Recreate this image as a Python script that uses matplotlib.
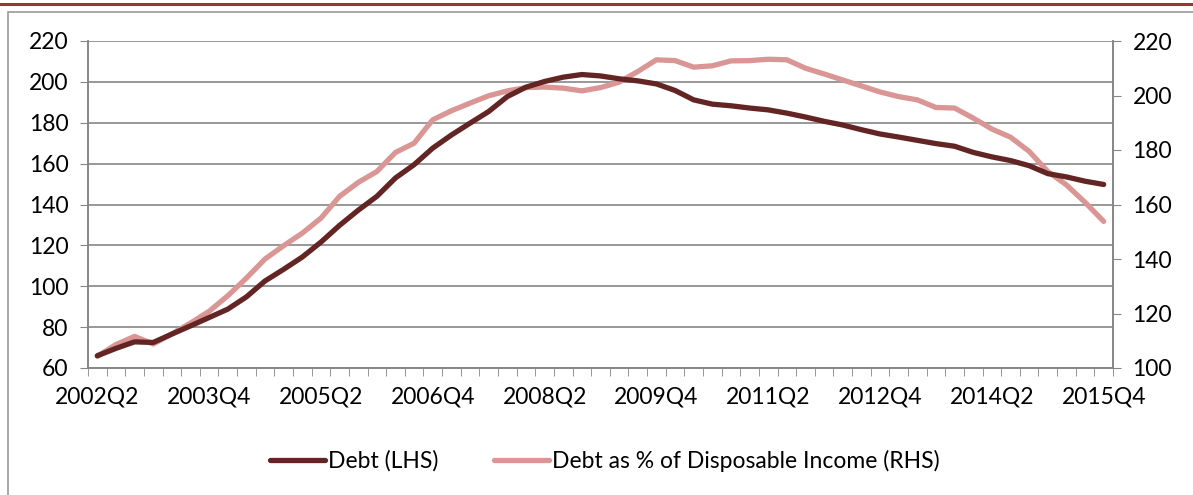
import numpy as np
import matplotlib
matplotlib.use('Agg')
import matplotlib.pyplot as plt
from matplotlib.lines import Line2D
from matplotlib.patches import Rectangle

plt.rcParams['font.family'] = ['Lato', 'DejaVu Sans']

# Quarterly data, 2002Q2 .. 2015Q4
quarters = [f'{y}Q{q}' for y in range(2002, 2016) for q in range(1, 5)][1:]

debt = [66, 69.6, 72.8, 72.5, 76.6, 80.6, 84.7, 88.8, 94.8, 102.6,
        108.3, 114.3, 121.6, 129.8, 137.2, 144, 153, 159.5, 167.6, 174,
        179.8, 185.5, 192.8, 197.4, 200.2, 202.3, 203.6, 202.9, 201.5, 200.5,
        199, 195.8, 191.2, 189.1, 188.3, 187.2, 186.3, 184.7, 182.8, 180.7,
        178.9, 176.6, 174.5, 173, 171.4, 169.8, 168.5, 165.5, 163.3, 161.5,
        159, 155.1, 153.5, 151.4, 149.8]

debt_pct_income = [104.3, 108.6, 111.6, 108.8, 112.5, 116.5, 120.8, 126.5, 133, 140,
                   144.9, 149.5, 155, 163, 168.1, 172.1, 179.1, 182.5, 191.1, 194.4,
                   197.2, 199.9, 201.7, 202.9, 203.1, 202.7, 201.7, 202.9, 204.9, 208.8,
                   213.1, 212.8, 210.4, 210.9, 212.7, 212.8, 213.3, 213.1, 210, 207.9,
                   205.7, 203.5, 201.3, 199.6, 198.4, 195.6, 195.4, 191.7, 187.7, 184.7,
                   179.5, 172.1, 167.2, 160.8, 153.8]

dark = '#632523'
light = '#D99694'
grid_col = '#868686'
fs = 16.5

fig = plt.figure(figsize=(11.93, 4.95), dpi=100)

# outer border + top red rule
fig.add_artist(Rectangle((8 / 1193, -0.01), 1.2, 1 - 12 / 495 + 0.01,
                         transform=fig.transFigure, fill=False,
                         edgecolor='#9a9a9a', linewidth=1.2))
fig.add_artist(Line2D([0, 1], [1 - 4 / 495] * 2, transform=fig.transFigure,
                      color='#953735', linewidth=2.2))

ax = fig.add_axes([88 / 1193, 1 - 368 / 495, (1113 - 88) / 1193, (368 - 41) / 495])
ax2 = ax.twinx()

x = np.arange(len(quarters))
l1, = ax.plot(x, debt, color=dark, linewidth=3.8, solid_capstyle='round', zorder=3)
l2, = ax2.plot(x, debt_pct_income, color=light, linewidth=3.8, solid_capstyle='round', zorder=3)
ax.set_zorder(ax2.get_zorder() + 1)
ax.patch.set_visible(False)

ax.set_xlim(-0.5, len(quarters) - 0.5)
ax.set_ylim(60, 220)
ax.set_yticks(range(60, 221, 20))
ax2.set_ylim(100, 220)
ax2.set_yticks(range(100, 221, 20))

ax.set_xticks(x[::6])
ax.set_xticklabels(quarters[::6])
ax.set_xticks(np.arange(-0.5, len(quarters), 1), minor=True)
ax.tick_params(axis='x', which='major', length=0, pad=13, labelsize=fs)
ax.tick_params(axis='x', which='minor', length=6, color=grid_col, direction='out')
ax.tick_params(axis='y', length=6, color=grid_col, labelsize=fs, pad=8)
ax2.tick_params(axis='y', length=6, color=grid_col, labelsize=fs, pad=8)

for a in (ax, ax2):
    a.spines['top'].set_visible(False)
    for s in ('left', 'right', 'bottom'):
        a.spines[s].set_color(grid_col)
        a.spines[s].set_linewidth(1.2)

# horizontal gridlines at the left-axis ticks, drawn below both lines
for v in range(60, 221, 20):
    ax2.axhline(100 + (v - 60) * 120 / 160, color=grid_col, linewidth=1.2, zorder=1)

fig.legend([l1, l2], ['Debt (LHS)', 'Debt as % of Disposable Income (RHS)'],
           loc='center', bbox_to_anchor=(0.507, 1 - 461 / 495), ncol=2, frameon=False,
           fontsize=fs, handlelength=2.4, columnspacing=2.4, handletextpad=0.15)

fig.savefig('out.png', dpi=100)
